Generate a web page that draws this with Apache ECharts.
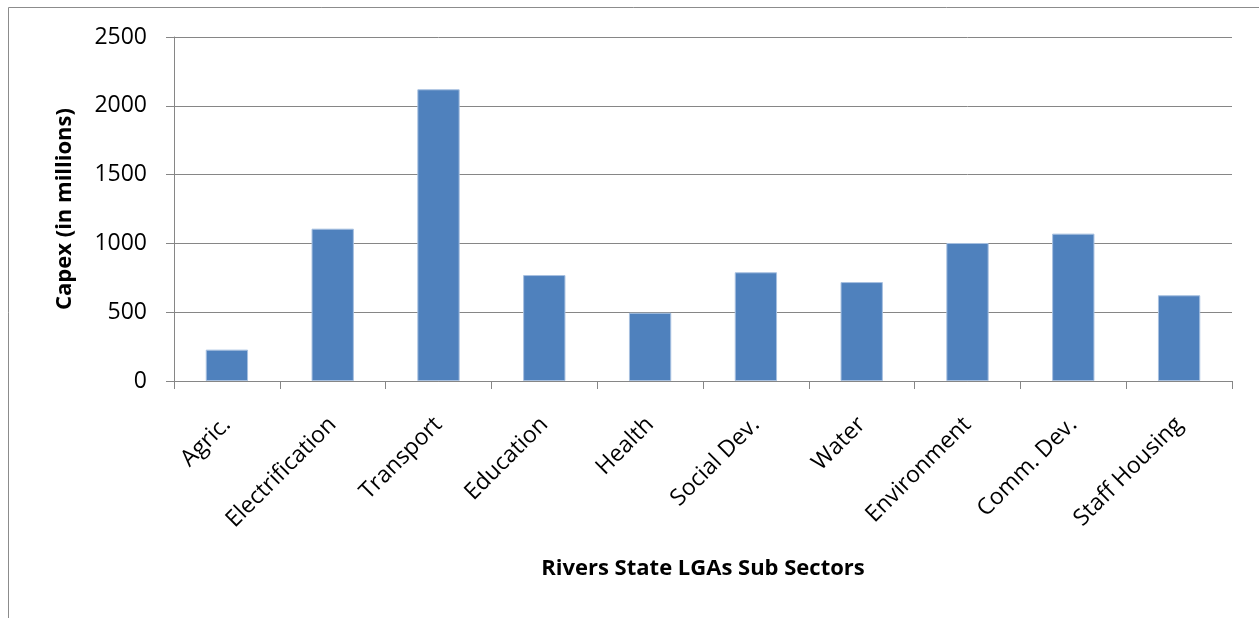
<!DOCTYPE html>
<html>
<head>
<meta charset="utf-8">
<script src="https://cdn.jsdelivr.net/npm/echarts@6/dist/echarts.min.js"></script>
<style>
html,body{margin:0;padding:0;background:#fff;}
#chart{width:1259px;height:618px;}
</style>
</head>
<body>
<div id="chart"></div>
<script>
var categories = ["Agric.", "Electrification", "Transport", "Education", "Health", "Social Dev.", "Water", "Environment", "Comm. Dev.", "Staff Housing"];
var capexValues = [228, 1107, 2120, 770, 496, 790, 719, 1003, 1071, 623];
var yTicks = { min: 0, max: 2500, interval: 500 };
var xAxisTitle = "Rivers State LGAs Sub Sectors";
var yAxisTitle = "Capex (in millions)";

var chart = echarts.init(document.getElementById('chart'), null, {renderer: 'canvas'});
var FONT = '"Open Sans", "Noto Sans", sans-serif';
var option = {
  backgroundColor: '#ffffff',
  animation: false,
  grid: { left: 174, right: 27, top: 37, bottom: 237, containLabel: false },
  graphic: [
    { type: 'line', shape: { x1: 8.5, y1: 7.5, x2: 1259, y2: 7.5 }, style: { stroke: '#8c8c8c', lineWidth: 1 } },
    { type: 'line', shape: { x1: 8.5, y1: 7.5, x2: 8.5, y2: 618 }, style: { stroke: '#8c8c8c', lineWidth: 1 } }
  ],
  xAxis: {
    type: 'category',
    data: categories,
    boundaryGap: true,
    name: xAxisTitle,
    nameLocation: 'middle',
    nameGap: 177,
    nameTextStyle: { fontFamily: FONT, fontWeight: 'bold', fontSize: 22, color: '#000' },
    axisLine: { lineStyle: { color: '#868686', width: 1 } },
    axisTick: { show: true, length: 8, alignWithLabel: false, lineStyle: { color: '#868686' } },
    axisLabel: { rotate: 45, interval: 0, margin: 40, fontFamily: FONT, fontSize: 23, color: '#000' }
  },
  yAxis: {
    type: 'value',
    min: yTicks.min, max: yTicks.max, interval: yTicks.interval,
    name: yAxisTitle,
    nameLocation: 'middle',
    nameGap: 98,
    nameRotate: 90,
    nameTextStyle: { fontFamily: FONT, fontWeight: 'bold', fontSize: 22, color: '#000' },
    axisLine: { show: true, lineStyle: { color: '#868686', width: 1 } },
    axisTick: { show: true, length: 8, lineStyle: { color: '#868686' } },
    axisLabel: { margin: 27, fontFamily: FONT, fontSize: 23, color: '#000', formatter: function (v) { return String(v); } },
    splitLine: { show: true, lineStyle: { color: '#868686', width: 1 } }
  },
  series: [{
    type: 'bar',
    data: capexValues,
    barWidth: '40%',
    itemStyle: { color: '#4F81BD', borderColor: '#a7c0e0', borderWidth: 1 }
  }]
};
chart.setOption(option);
</script>
</body>
</html>
